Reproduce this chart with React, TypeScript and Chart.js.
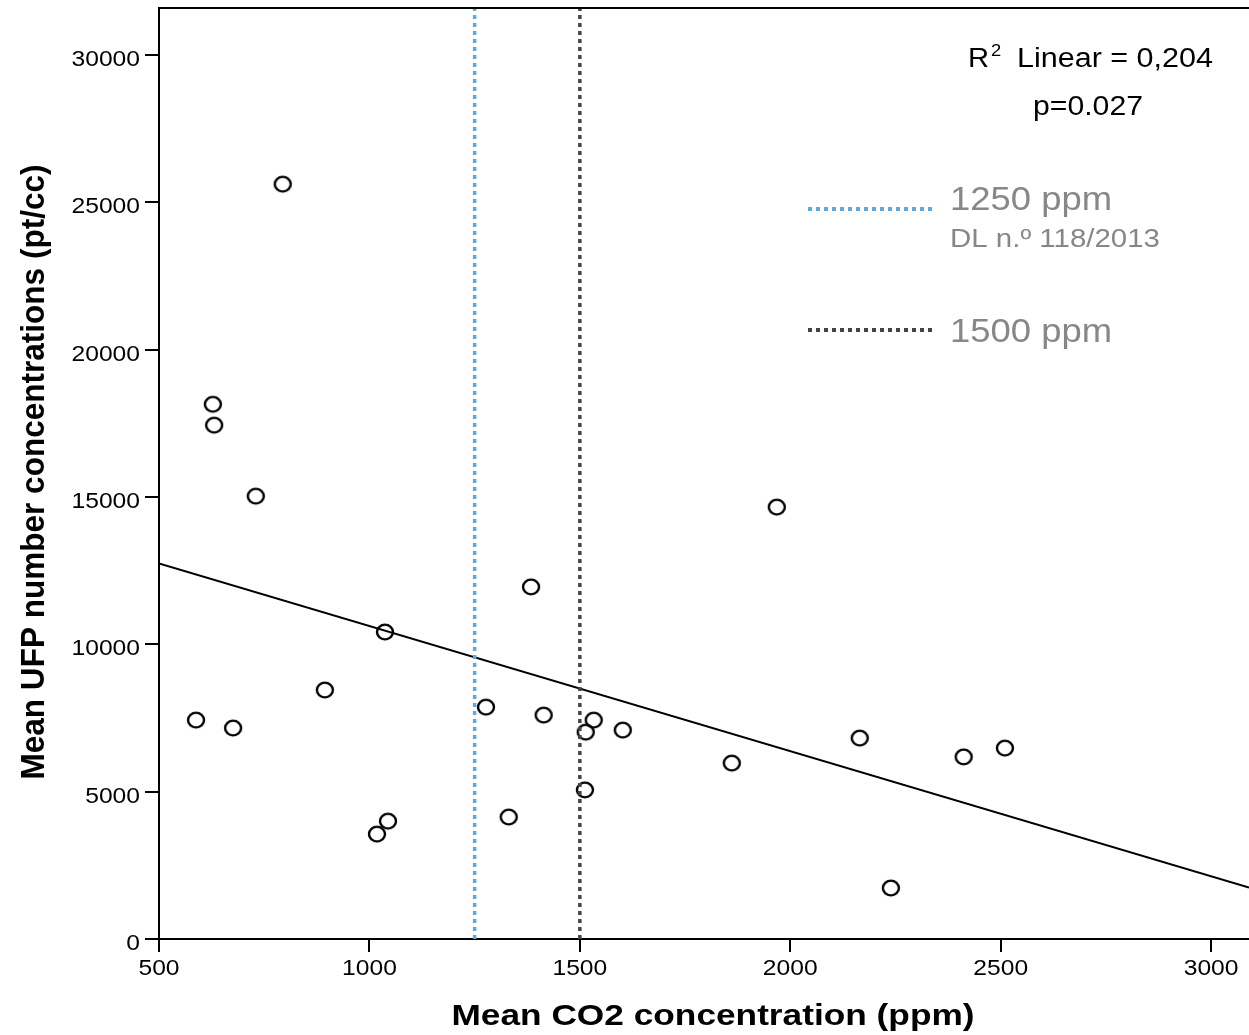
import React, { useEffect, useRef } from "react";
import { Chart, registerables } from "chart.js";

Chart.register(...registerables);

// ---- data ----
const co2Values = [588, 676, 628, 631, 730, 794, 894, 1037, 1018, 1044, 1277, 1331, 1384, 1414, 1514, 1533, 1512, 1602, 1861, 1968, 2165, 2239, 2412, 2510];
const ufpValues = [7430, 7160, 18150, 17440, 15030, 25620, 8450, 10420, 3560, 4000, 7870, 4140, 11950, 7600, 7020, 7430, 5060, 7090, 5970, 14660, 6820, 1730, 6180, 6480];
const fitX = [500, 3090];
const fitY = [12750, 1750];
const limitLow = 1250;
const limitHigh = 1500;
const xTicks = [500, 1000, 1500, 2000, 2500, 3000];
const yTicks = [0, 5000, 10000, 15000, 20000, 25000, 30000];
const xRange = [500, 3090];
const yRange = [0, 31600];
const xTitle = "Mean CO2 concentration (ppm)";
const yTitle = "Mean UFP number concentrations (pt/cc)";
const r2Text = "Linear = 0,204";
const pText = "p=0.027";
const legendLow = "1250 ppm";
const legendLowSub = "DL n.º 118/2013";
const legendHigh = "1500 ppm";

const FONT = '"Liberation Sans", Arial, sans-serif';
const BLUE = "#63a9d8";
const DARK = "#444444";
const GRAY = "#878787";

function drawText(
  ctx: CanvasRenderingContext2D,
  text: string,
  x: number,
  y: number,
  font: string,
  color: string,
  align: "left" | "center" | "right",
  sx: number
) {
  ctx.save();
  ctx.font = font;
  ctx.fillStyle = color;
  ctx.textAlign = "left";
  ctx.textBaseline = "alphabetic";
  const w = ctx.measureText(text).width * sx;
  let left = x;
  if (align === "center") left = x - w / 2;
  if (align === "right") left = x - w;
  ctx.translate(left, y);
  ctx.scale(sx, 1);
  ctx.fillText(text, 0, 0);
  ctx.restore();
}

function fitWidth(ctx: CanvasRenderingContext2D, text: string, font: string, target: number) {
  ctx.save();
  ctx.font = font;
  const w = ctx.measureText(text).width;
  ctx.restore();
  return target / w;
}

const decorPlugin = {
  id: "decor",
  afterDraw(chart: any) {
    const ctx: CanvasRenderingContext2D = chart.ctx;
    const xs = chart.scales.x;
    const ys = chart.scales.y;
    const area = chart.chartArea;

    ctx.save();
    ctx.strokeStyle = "#000";
    ctx.lineWidth = 2;
    // top frame
    ctx.beginPath();
    ctx.moveTo(area.left - 1, area.top);
    ctx.lineTo(area.right, area.top);
    ctx.stroke();

    // tick marks
    ctx.beginPath();
    yTicks.forEach((v) => {
      const py = Math.round(ys.getPixelForValue(v));
      ctx.moveTo(area.left - 14, py);
      ctx.lineTo(area.left, py);
    });
    xTicks.forEach((v) => {
      const px = Math.round(xs.getPixelForValue(v));
      ctx.moveTo(px, area.bottom);
      ctx.lineTo(px, area.bottom + 13);
    });
    ctx.stroke();
    ctx.restore();

    // tick labels
    const tickFont = `22px ${FONT}`;
    yTicks.forEach((v) => {
      const py = ys.getPixelForValue(v);
      drawText(ctx, String(v), area.left - 19, py + 11, tickFont, "#000", "right", 1.12);
    });
    xTicks.forEach((v) => {
      const px = xs.getPixelForValue(v);
      drawText(ctx, String(v), px, area.bottom + 36, tickFont, "#000", "center", 1.12);
    });

    // axis titles
    const titleFont = `bold 30px ${FONT}`;
    const sxT = fitWidth(ctx, xTitle, titleFont, 523);
    drawText(ctx, xTitle, 713, 1025, titleFont, "#000", "center", sxT);

    ctx.save();
    ctx.translate(44, 472);
    ctx.rotate(-Math.PI / 2);
    ctx.scale(1, 1.12);
    const syT = fitWidth(ctx, yTitle, titleFont, 615);
    drawText(ctx, yTitle, 0, 0, titleFont, "#000", "center", syT);
    ctx.restore();

    // R2 annotation
    const annFont = `27px ${FONT}`;
    const supFont = `17px ${FONT}`;
    drawText(ctx, "R", 968, 67, annFont, "#000", "left", 1.08);
    drawText(ctx, "2", 991, 56, supFont, "#000", "left", 1.08);
    const sxR = fitWidth(ctx, r2Text, annFont, 196);
    drawText(ctx, r2Text, 1017, 67, annFont, "#000", "left", sxR);
    const sxP = fitWidth(ctx, pText, annFont, 110);
    drawText(ctx, pText, 1033, 115, annFont, "#000", "left", sxP);

    // legend
    ctx.save();
    ctx.lineWidth = 4;
    ctx.setLineDash([4, 4]);
    ctx.strokeStyle = BLUE;
    ctx.beginPath();
    ctx.moveTo(808, 209);
    ctx.lineTo(932, 209);
    ctx.stroke();
    ctx.strokeStyle = DARK;
    ctx.beginPath();
    ctx.moveTo(808, 330);
    ctx.lineTo(932, 330);
    ctx.stroke();
    ctx.restore();

    const legFont = `33px ${FONT}`;
    const sxL = fitWidth(ctx, legendLow, legFont, 162);
    drawText(ctx, legendLow, 950, 210, legFont, GRAY, "left", sxL);
    drawText(ctx, legendHigh, 950, 342, legFont, GRAY, "left", sxL);
    const subFont = `25px ${FONT}`;
    const sxS = fitWidth(ctx, legendLowSub, subFont, 210);
    drawText(ctx, legendLowSub, 950, 247, subFont, GRAY, "left", sxS);
  },
};

export default function App() {
  const ref = useRef<HTMLCanvasElement | null>(null);

  useEffect(() => {
    if (!ref.current) return;
    document.body.style.margin = "0";

    const marker = document.createElement("canvas");
    marker.width = 24;
    marker.height = 22;
    const mctx = marker.getContext("2d")!;
    mctx.strokeStyle = "#000";
    mctx.lineWidth = 2.4;
    mctx.beginPath();
    mctx.ellipse(12, 11, 8.0, 7.4, 0, 0, Math.PI * 2);
    mctx.stroke();

    const points = co2Values.map((x, i) => ({ x, y: ufpValues[i] }));
    const fit = fitX.map((x, i) => ({ x, y: fitY[i] }));

    const chart = new Chart(ref.current, {
      type: "scatter",
      data: {
        datasets: [
          {
            label: "1250",
            data: [
              { x: limitLow, y: yRange[0] },
              { x: limitLow, y: yRange[1] },
            ],
            showLine: true,
            borderColor: BLUE,
            borderWidth: 3.5,
            borderDash: [4, 4],
            pointRadius: 0,
          },
          {
            label: "1500",
            data: [
              { x: limitHigh, y: yRange[0] },
              { x: limitHigh, y: yRange[1] },
            ],
            showLine: true,
            borderColor: DARK,
            borderWidth: 3.5,
            borderDash: [4, 4],
            pointRadius: 0,
          },
          {
            label: "fit",
            data: fit,
            showLine: true,
            borderColor: "#000",
            borderWidth: 2,
            pointRadius: 0,
          },
          {
            label: "data",
            data: points,
            pointStyle: marker as any,
            pointRadius: 8,
            showLine: false,
          },
        ],
      },
      options: {
        animation: false,
        responsive: false,
        events: [],
        layout: { autoPadding: false, padding: { top: 8, right: 0, left: 0, bottom: 0 } },
        plugins: { legend: { display: false }, tooltip: { enabled: false } },
        scales: {
          x: {
            type: "linear",
            min: xRange[0],
            max: xRange[1],
            grid: { display: false },
            border: { display: true, color: "#000", width: 2 },
            ticks: { display: false },
            afterFit: (s: any) => {
              s.height = 96;
            },
          },
          y: {
            type: "linear",
            min: yRange[0],
            max: yRange[1],
            grid: { display: false },
            border: { display: true, color: "#000", width: 2 },
            ticks: { display: false },
            afterFit: (s: any) => {
              s.width = 159;
            },
          },
        },
      },
      plugins: [decorPlugin],
    });
    return () => chart.destroy();
  }, []);

  return (
    <div style={{ position: "fixed", left: 0, top: 0, width: 1249, height: 1035, background: "#fff" }}>
      <canvas ref={ref} width={1249} height={1035} style={{ width: 1249, height: 1035 }} />
    </div>
  );
}
